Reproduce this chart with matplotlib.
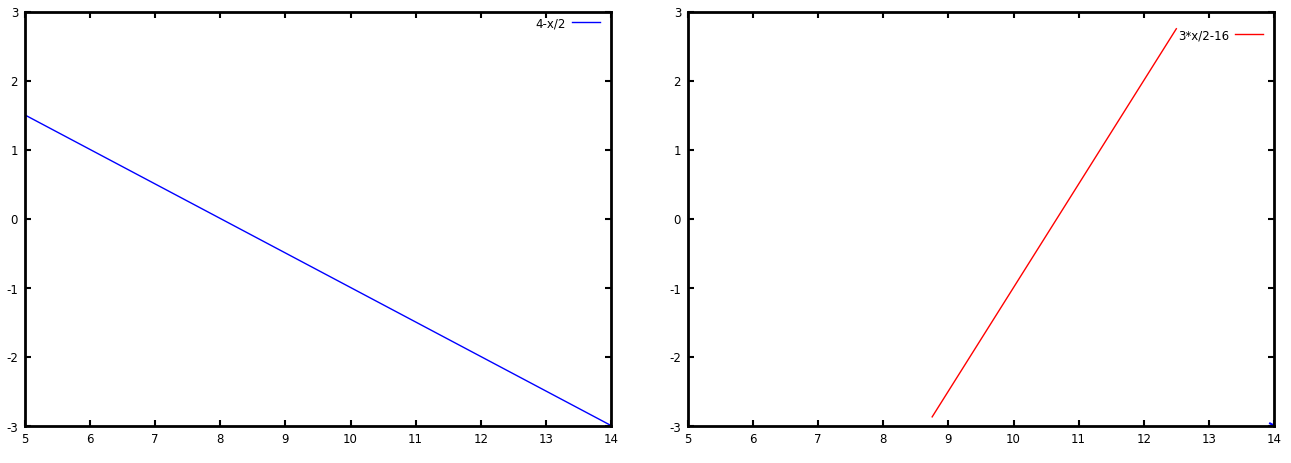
import matplotlib
matplotlib.use("Agg")
import matplotlib.pyplot as plt

plt.rcParams["axes.unicode_minus"] = False

# Data
left_x = [5, 14]
left_y = [1.5, -3.0]
left_label = "4-x/2"

right_x = [8.75, 12.5]
right_y = [-2.875, 2.75]
right_label = "3*x/2-16"

right_blue_x = [13.94, 14.0]
right_blue_y = [-2.97, -3.0]

xticks = [5, 6, 7, 8, 9, 10, 11, 12, 13, 14]
yticks = [-3, -2, -1, 0, 1, 2, 3]

W, H = 1291, 464
fig = plt.figure(figsize=(W / 100, H / 100), dpi=100)

def make_ax(l, r, t, b):
    ax = fig.add_axes([l / W, 1 - b / H, (r - l) / W, (b - t) / H])
    ax.set_xlim(5, 14)
    ax.set_ylim(-3, 3)
    ax.set_xticks(xticks)
    ax.set_yticks(yticks)
    ax.tick_params(direction="in", top=True, right=True, length=4, width=1.5,
                   labelsize=8.5, pad=5)
    for s in ax.spines.values():
        s.set_linewidth(2)
    return ax

ax1 = make_ax(25, 611, 12.5, 426.5)
ax1.plot(left_x, left_y, color="blue", lw=1, label=left_label)
ax1.legend(loc="upper right", bbox_to_anchor=(0.99, 1.0), frameon=False,
           markerfirst=False, fontsize=8.5, handlelength=2.4,
           borderaxespad=0.0, handletextpad=0.5)

ax2 = make_ax(688, 1274, 12.5, 426.5)
ax2.plot(right_x, right_y, color="red", lw=1, label=right_label)
ax2.plot(right_blue_x, right_blue_y, color="blue", lw=1.5)
h, l = ax2.get_legend_handles_labels()
ax2.legend(h[:1], l[:1], loc="upper right", bbox_to_anchor=(0.99, 0.971),
           frameon=False, markerfirst=False, fontsize=8.5, handlelength=2.4,
           borderaxespad=0.0, handletextpad=0.5)

fig.savefig("out.png", dpi=100)
